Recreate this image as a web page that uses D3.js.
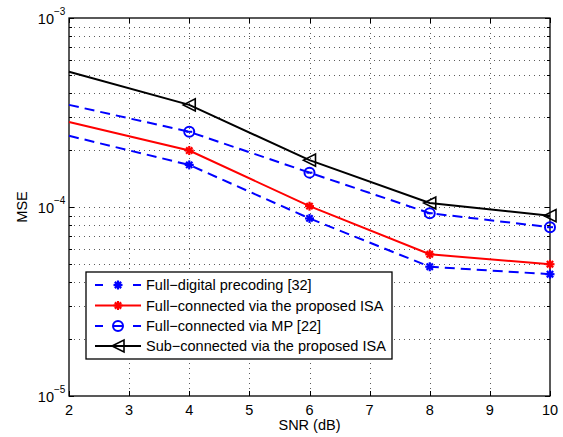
<!DOCTYPE html>
<html>
<head>
<meta charset="utf-8">
<script src="https://cdn.jsdelivr.net/npm/d3@7"></script>
<style>
  body { margin: 0; background: #fff; }
  text { font-family: "Liberation Sans", Arial, sans-serif; }
</style>
</head>
<body>
<svg class="chart"></svg>
<script>
// data
let snr = [2, 4, 6, 8, 10];
let fullDigital = [2.38e-4, 1.67e-4, 8.7e-5, 4.83e-5, 4.41e-5];
let fullIsa = [2.82e-4, 1.99e-4, 1.01e-4, 5.62e-5, 4.98e-5];
let fullMp = [3.47e-4, 2.5e-4, 1.52e-4, 9.27e-5, 7.82e-5];
let subIsa = [5.2e-4, 3.47e-4, 1.77e-4, 1.05e-4, 9.0e-5];
let xTicks = [2, 3, 4, 5, 6, 7, 8, 9, 10];
let yTicks = [1e-5, 1e-4, 1e-3];
let labels = ['Full\u2212digital precoding [32]', 'Full\u2212connected via the proposed ISA',
  'Full\u2212connected via MP [22]', 'Sub\u2212connected via the proposed ISA'];

let svg_width = 563, svg_height = 437;
let plotLeft = 69, plotRight = 550, plotTop = 18, plotBottom = 396;
let fs = 14.5;

let svg = d3.select('.chart')
  .attr('width', svg_width)
  .attr('height', svg_height);

let scaleX = d3.scaleLinear().domain([2, 10]).range([plotLeft, plotRight]);
let scaleY = d3.scaleLog().domain([1e-5, 1e-3]).range([plotBottom, plotTop]);

// minor log ticks
let minor = [];
[1e-5, 1e-4].forEach(d => { for (let k = 2; k <= 9; k++) minor.push(d * k); });

// grid
let grid = svg.append('g').attr('stroke', '#333').attr('stroke-width', 1)
  .attr('stroke-dasharray', '1,4').attr('opacity', 0.8);
grid.selectAll('.gx').data(xTicks.slice(1, -1)).enter().append('line')
  .attr('x1', d => Math.round(scaleX(d)) + 0.5).attr('x2', d => Math.round(scaleX(d)) + 0.5)
  .attr('y1', plotTop).attr('y2', plotBottom);
grid.selectAll('.gy').data(minor.concat([1e-4])).enter().append('line')
  .attr('y1', d => Math.round(scaleY(d)) + 0.5).attr('y2', d => Math.round(scaleY(d)) + 0.5)
  .attr('x1', plotLeft).attr('x2', plotRight);

// ticks inward
let ticks = svg.append('g').attr('stroke', '#000').attr('stroke-width', 1);
xTicks.forEach(d => {
  let x = Math.round(scaleX(d)) + 0.5;
  ticks.append('line').attr('x1', x).attr('x2', x).attr('y1', plotBottom).attr('y2', plotBottom - 5);
  ticks.append('line').attr('x1', x).attr('x2', x).attr('y1', plotTop).attr('y2', plotTop + 5);
});
yTicks.concat(minor).forEach(d => {
  let y = Math.round(scaleY(d)) + 0.5;
  let len = yTicks.includes(d) ? 5 : 3;
  ticks.append('line').attr('y1', y).attr('y2', y).attr('x1', plotLeft).attr('x2', plotLeft + len);
  ticks.append('line').attr('y1', y).attr('y2', y).attr('x1', plotRight).attr('x2', plotRight - len);
});

// box
svg.append('rect').attr('x', plotLeft).attr('y', plotTop)
  .attr('width', plotRight - plotLeft).attr('height', plotBottom - plotTop)
  .attr('fill', 'none').attr('stroke', '#000').attr('stroke-width', 1.3);

// tick labels
svg.selectAll('.xl').data(xTicks).enter().append('text')
  .attr('x', d => scaleX(d)).attr('y', 415)
  .attr('text-anchor', 'middle').attr('font-size', fs).text(d => d);

yTicks.forEach(d => {
  svg.append('text').attr('x', plotLeft - 15).attr('y', scaleY(d) + 6)
    .attr('text-anchor', 'end').attr('font-size', fs).text('10');
  svg.append('text').attr('x', plotLeft - 15).attr('y', scaleY(d) - 3)
    .attr('font-size', 10).text('\u2212' + (-Math.round(Math.log10(d))));
});

svg.append('text').attr('x', (plotLeft + plotRight) / 2).attr('y', 429.5)
  .attr('text-anchor', 'middle').attr('font-size', fs).text('SNR (dB)');
svg.append('text').attr('transform', 'translate(27,' + (plotTop + plotBottom) / 2 + ') rotate(-90)')
  .attr('text-anchor', 'middle').attr('font-size', fs).text('MSE');

// series
let series = [
  { values: fullDigital, color: '#0000ff', dash: '10,6', marker: 'star' },
  { values: fullIsa, color: '#ff0000', dash: null, marker: 'star' },
  { values: fullMp, color: '#0000ff', dash: '10,6', marker: 'circle' },
  { values: subIsa, color: '#000000', dash: null, marker: 'tri' }
];

let line = d3.line().x((d, i) => scaleX(snr[i])).y(d => scaleY(d));

function drawMarker(g, type, x, y, color) {
  if (type === 'star') {
    let r = 4.5;
    [[-r, 0, r, 0], [0, -r, 0, r], [-r * 0.7, -r * 0.7, r * 0.7, r * 0.7], [-r * 0.7, r * 0.7, r * 0.7, -r * 0.7]]
      .forEach(s => g.append('line').attr('x1', x + s[0]).attr('y1', y + s[1]).attr('x2', x + s[2]).attr('y2', y + s[3])
        .attr('stroke', color).attr('stroke-width', 2.2));
  } else if (type === 'circle') {
    g.append('circle').attr('cx', x).attr('cy', y).attr('r', 5)
      .attr('fill', 'none').attr('stroke', color).attr('stroke-width', 2);
    g.append('line').attr('x1', x - 3).attr('x2', x + 3).attr('y1', y).attr('y2', y)
      .attr('stroke', color).attr('stroke-width', 2);
  } else {
    let s = 6;
    g.append('path').attr('d', 'M' + (x - s) + ',' + y + 'L' + (x + s) + ',' + (y - s) + 'L' + (x + s) + ',' + (y + s) + 'Z')
      .attr('fill', 'none').attr('stroke', color).attr('stroke-width', 1.6);
  }
}

series.forEach(s => {
  svg.append('path').datum(s.values).attr('d', line)
    .attr('fill', 'none').attr('stroke', s.color).attr('stroke-width', 2)
    .attr('stroke-dasharray', s.dash);
  let g = svg.append('g');
  // no marker drawn at the first point in the source figure
  s.values.forEach((v, i) => { if (i > 0) drawMarker(g, s.marker, scaleX(snr[i]), scaleY(v), s.color); });
});

// legend
let lg = svg.append('g');
lg.append('rect').attr('x', 86).attr('y', 272).attr('width', 306).attr('height', 87)
  .attr('fill', '#fff').attr('stroke', '#000').attr('stroke-width', 1.3);
let rowY = [285, 305.5, 326, 346];
series.forEach((s, i) => {
  let y = rowY[i];
  lg.append('line').attr('x1', 95).attr('x2', 141).attr('y1', y).attr('y2', y)
    .attr('stroke', s.color).attr('stroke-width', 2)
    .attr('stroke-dasharray', s.dash ? '8,11' : null);
  drawMarker(lg, s.marker, 118, y, s.color);
  lg.append('text').attr('x', 146).attr('y', y + 5).attr('font-size', fs).text(labels[i]);
});
</script>
</body>
</html>
